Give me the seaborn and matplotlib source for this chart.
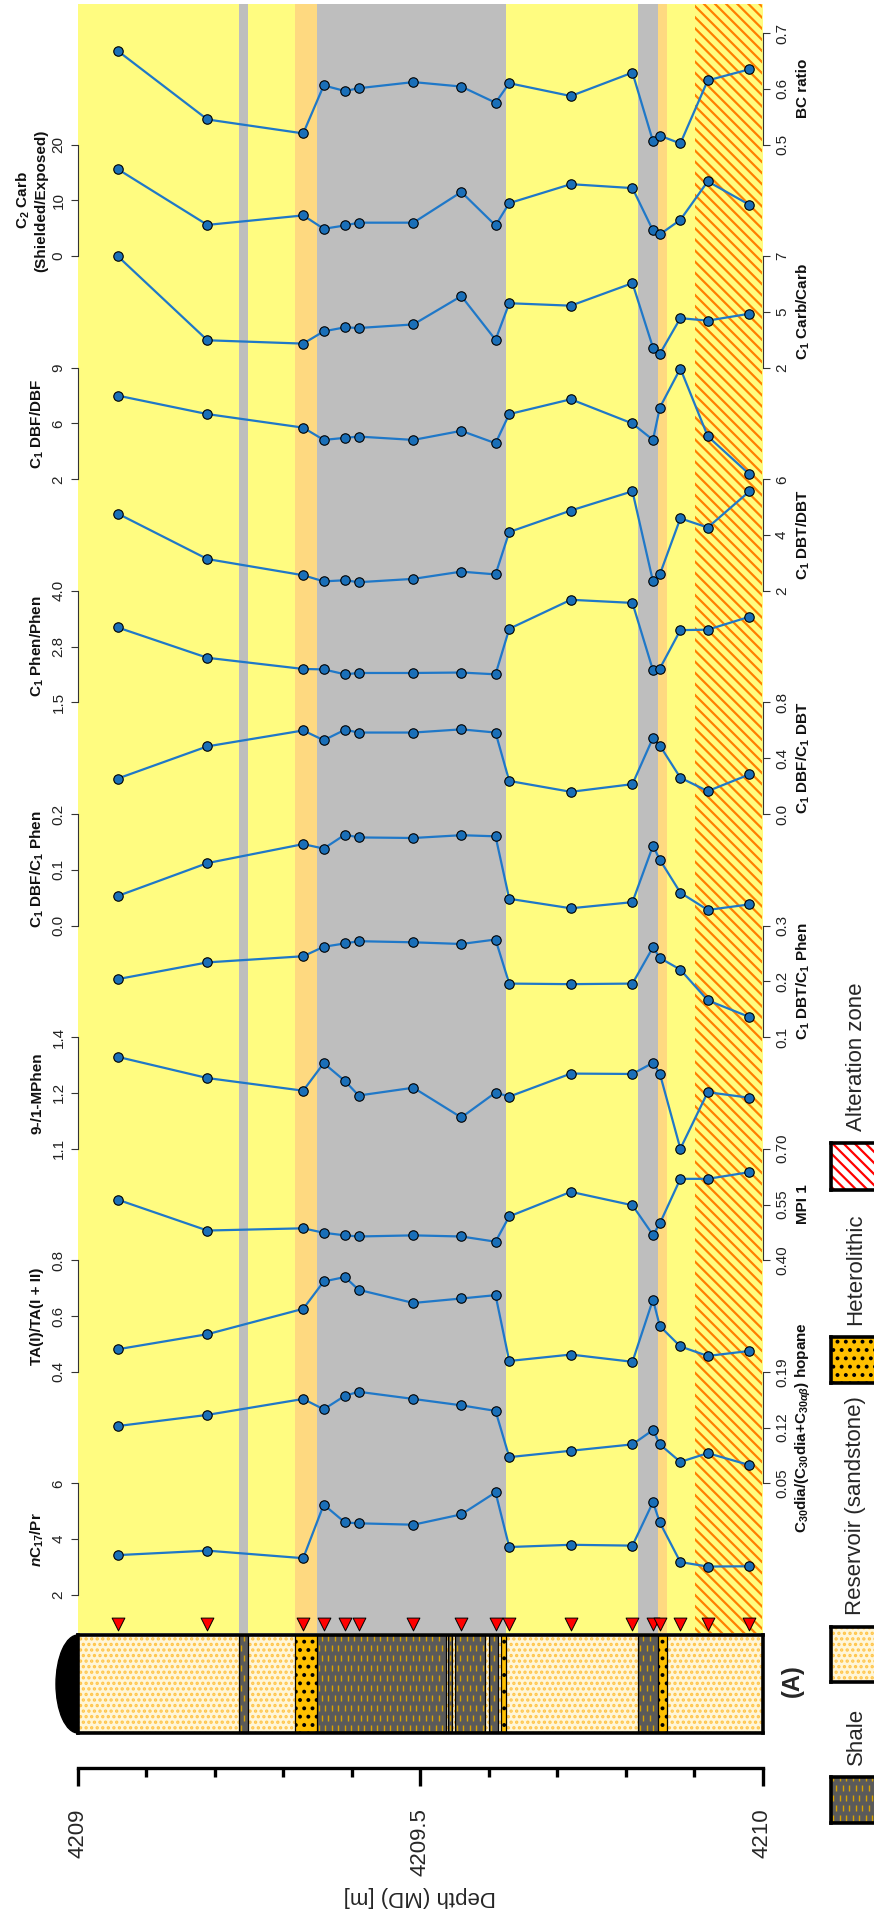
import numpy as np
import matplotlib
matplotlib.use("Agg")
import matplotlib.pyplot as plt
from matplotlib.patches import Ellipse
import seaborn as sns

# ---------------------------------------------------------------- data
depth = [4209.058, 4209.189, 4209.329, 4209.359, 4209.390, 4209.410, 4209.490,
         4209.560, 4209.610, 4209.630, 4209.720, 4209.810, 4209.840, 4209.850,
         4209.880, 4209.920, 4209.981]

nc17_pr = [3.43, 3.59, 3.32, 5.24, 4.60, 4.57, 4.52, 4.89, 5.68, 3.72, 3.80, 3.77, 5.33, 4.60, 3.18, 3.02, 3.03]
c30dia_hopane = [0.122, 0.136, 0.156, 0.143, 0.160, 0.165, 0.156, 0.148, 0.141, 0.083, 0.091, 0.099, 0.117, 0.099, 0.077, 0.088, 0.073]
ta_ratio = [0.481, 0.535, 0.626, 0.724, 0.740, 0.694, 0.647, 0.663, 0.675, 0.439, 0.462, 0.436, 0.659, 0.564, 0.491, 0.457, 0.475]
mpi1 = [0.563, 0.480, 0.486, 0.474, 0.467, 0.464, 0.467, 0.464, 0.450, 0.518, 0.584, 0.548, 0.468, 0.499, 0.619, 0.619, 0.637]
mphen_9_1 = [1.347, 1.290, 1.256, 1.330, 1.282, 1.243, 1.264, 1.184, 1.251, 1.240, 1.302, 1.301, 1.331, 1.302, 1.100, 1.252, 1.237]
dbt_phen = [0.204, 0.234, 0.245, 0.262, 0.268, 0.272, 0.270, 0.267, 0.275, 0.196, 0.195, 0.196, 0.261, 0.242, 0.221, 0.166, 0.136]
dbf_phen = [0.053, 0.112, 0.146, 0.138, 0.163, 0.158, 0.157, 0.162, 0.160, 0.048, 0.031, 0.042, 0.143, 0.118, 0.059, 0.028, 0.038]
dbf_dbt = [0.254, 0.485, 0.599, 0.529, 0.604, 0.584, 0.584, 0.607, 0.584, 0.237, 0.159, 0.214, 0.546, 0.491, 0.260, 0.164, 0.284]
c1_phen = [3.18, 2.50, 2.25, 2.24, 2.13, 2.16, 2.16, 2.17, 2.13, 3.15, 3.80, 3.73, 2.22, 2.26, 3.12, 3.13, 3.42]
c1_dbt = [4.77, 3.14, 2.56, 2.34, 2.38, 2.31, 2.43, 2.69, 2.59, 4.11, 4.88, 5.57, 2.34, 2.59, 4.60, 4.27, 5.57]
c1_dbf = [7.25, 6.09, 5.24, 4.47, 4.60, 4.68, 4.47, 5.04, 4.26, 6.09, 7.02, 5.50, 4.47, 6.50, 8.95, 4.70, 2.31]
c1_carb = [7.00, 3.23, 3.08, 3.63, 3.81, 3.78, 3.94, 5.21, 3.25, 4.89, 4.78, 5.79, 2.90, 2.62, 4.22, 4.11, 4.42]
c2_carb = [15.6, 5.6, 7.3, 4.9, 5.5, 6.0, 6.0, 11.5, 5.5, 9.5, 12.9, 12.2, 4.6, 3.9, 6.5, 13.4, 9.2]
bc_ratio = [0.668, 0.545, 0.520, 0.606, 0.596, 0.601, 0.612, 0.604, 0.575, 0.610, 0.587, 0.629, 0.506, 0.516, 0.502, 0.615, 0.635]

# (title, values, axis side, axis low, axis high, tick labels) from the bottom track up
tracks = [
    (r'$n$C$_\mathbf{17}$/Pr', nc17_pr, 'L', 2, 6, ['2', '4', '6']),
    (r'C$_\mathbf{30}$dia/(C$_\mathbf{30}$dia+C$_{\mathbf{30}\alpha\beta}$) hopane', c30dia_hopane, 'R', 0.05, 0.19, ['0.05', '0.12', '0.19']),
    ('TA(I)/TA(I + II)', ta_ratio, 'L', 0.4, 0.8, ['0.4', '0.6', '0.8']),
    ('MPI 1', mpi1, 'R', 0.40, 0.70, ['0.40', '0.55', '0.70']),
    ('9-/1-MPhen', mphen_9_1, 'L', 1.1, 1.4, ['1.1', '1.2', '1.4']),
    (r'C$_\mathbf{1}$ DBT/C$_\mathbf{1}$ Phen', dbt_phen, 'R', 0.1, 0.3, ['0.1', '0.2', '0.3']),
    (r'C$_\mathbf{1}$ DBF/C$_\mathbf{1}$ Phen', dbf_phen, 'L', 0.0, 0.2, ['0.0', '0.1', '0.2']),
    (r'C$_\mathbf{1}$ DBF/C$_\mathbf{1}$ DBT', dbf_dbt, 'R', 0.0, 0.8, ['0.0', '0.4', '0.8']),
    (r'C$_\mathbf{1}$ Phen/Phen', c1_phen, 'L', 1.5, 4.0, ['1.5', '2.8', '4.0']),
    (r'C$_\mathbf{1}$ DBT/DBT', c1_dbt, 'R', 2, 6, ['2', '4', '6']),
    (r'C$_\mathbf{1}$ DBF/DBF', c1_dbf, 'L', 2, 9, ['2', '6', '9']),
    (r'C$_\mathbf{1}$ Carb/Carb', c1_carb, 'R', 2, 7, ['2', '5', '7']),
    ('C$_\\mathbf{2}$ Carb\n(Shielded/Exposed)', c2_carb, 'L', 0, 20, ['0', '10', '20']),
    ('BC ratio', bc_ratio, 'R', 0.5, 0.7, ['0.5', '0.6', '0.7']),
]

# background zones along the core (top, base, kind)
zones = [
    (4209.2345, 4209.249, 'shale'),
    (4209.3176, 4209.3485, 'hetero'),
    (4209.3485, 4209.626, 'shale'),
    (4209.818, 4209.847, 'shale'),
    (4209.847, 4209.860, 'hetero'),
    (4209.901, 4210.0, 'altered'),
]

# lithology log intervals
litho = [
    (4209.0, 4209.2345, 'sand'), (4209.2345, 4209.249, 'shale'),
    (4209.249, 4209.3176, 'sand'), (4209.3176, 4209.3485, 'hetero'),
    (4209.3485, 4209.537, 'shale'), (4209.537, 4209.541, 'sand'),
    (4209.541, 4209.546, 'shale'), (4209.546, 4209.5505, 'sand'),
    (4209.5505, 4209.595, 'shale'), (4209.595, 4209.600, 'sand'),
    (4209.600, 4209.613, 'shale'), (4209.613, 4209.618, 'sand'),
    (4209.618, 4209.626, 'hetero'), (4209.626, 4209.818, 'sand'),
    (4209.818, 4209.847, 'shale'), (4209.847, 4209.860, 'hetero'),
    (4209.860, 4210.0, 'sand'),
]

legend_items = ['Shale', 'Reservoir (sandstone)', 'Heterolithic', 'Alteration zone']

# ---------------------------------------------------------------- style
sns.set_style("white")
plt.rcParams['font.family'] = ['Liberation Sans', 'DejaVu Sans']
plt.rcParams['mathtext.fontset'] = 'custom'
plt.rcParams['mathtext.rm'] = 'Liberation Sans:bold'
plt.rcParams['mathtext.bf'] = 'Liberation Sans:bold'
plt.rcParams['mathtext.it'] = 'Liberation Sans:italic:bold'
plt.rcParams['hatch.linewidth'] = 1.6

YELLOW = '#FFFC80'
LORANGE = '#FED980'
GRAY = '#BEBEBE'
STRIPE = '#FF8000'
LINE = '#1F78C8'
FACE = '#1A6FB8'
SAND = '#FFF6D8'
SAND_DOT = '#FFC54A'
HETERO = '#FFC000'
SHALE = '#5A5A5A'
SHALE_DASH = '#D9A300'

W, H = 874, 1913
fig = plt.figure(figsize=(W / 100, H / 100), dpi=100)


def box(x0, y0, x1, y1):
    """Pixel rectangle (y measured from the top) -> figure axes rect."""
    return [x0 / W, 1 - y1 / H, (x1 - x0) / W, (y1 - y0) / H]


PX0, PX1 = 78, 762.5
D0, D1 = 4209.0, 4210.0

# ---------------------------------------------------------------- background
ax_bg = fig.add_axes(box(PX0, 4, PX1, 1633))
ax_bg.set_xlim(D0, D1)
ax_bg.set_ylim(0, 1)
ax_bg.axis('off')
ax_bg.axvspan(D0, D1, color=YELLOW, lw=0)
for top, base, kind in zones:
    if kind == 'shale':
        ax_bg.axvspan(top, base, color=GRAY, lw=0)
    elif kind == 'hetero':
        ax_bg.axvspan(top, base, color=LORANGE, lw=0)
    else:
        ax_bg.axvspan(top, base, facecolor=YELLOW, edgecolor=STRIPE,
                      hatch='\\\\\\', lw=0)

# sample positions
tri_y = (1633 - 1623.5) / (1633 - 4)
sns.scatterplot(x=depth, y=[tri_y] * len(depth), ax=ax_bg, marker='v', s=85,
                color='#FF0000', edgecolor='black', linewidth=0.7,
                legend=False, clip_on=False, zorder=5)

# ---------------------------------------------------------------- tracks
BASE, TOP = 1595, 33
BAND = (BASE - TOP) / len(tracks)
for k, (title, vals, side, lo, hi, labels) in enumerate(tracks):
    yb = BASE - k * BAND
    yt = yb - BAND
    ax = fig.add_axes(box(PX0, yt, PX1, yb))
    ax.patch.set_alpha(0)
    sns.lineplot(x=depth, y=vals, ax=ax, estimator=None, sort=False,
                 color=LINE, linewidth=1.6, marker='o', markersize=6.8,
                 markerfacecolor=FACE, markeredgecolor='black',
                 markeredgewidth=0.8)
    for ln in ax.lines:
        ln.set_clip_on(False)
    ax.set_xlim(D0, D1)
    ax.set_ylim(lo, hi)
    ax.set_xlabel('')
    ax.set_ylabel('')
    ax.set_xticks([])
    for sp in ax.spines.values():
        sp.set_visible(False)
    spine = 'left' if side == 'L' else 'right'
    ax.spines[spine].set_visible(True)
    ax.spines[spine].set_color('#333333')
    ax.spines[spine].set_linewidth(0.8)
    ax.set_yticks([lo, (lo + hi) / 2, hi], labels)
    if side == 'R':
        ax.yaxis.tick_right()
    else:
        ax.yaxis.tick_left()
    ax.tick_params(axis='y', length=5, width=0.8, colors='#333333',
                   labelsize=11, pad=4, labelrotation=90)
    for t in ax.get_yticklabels():
        t.set_color('#222222')
        t.set_va('center')
    ymid = (yt + yb) / 2
    if side == 'L':
        tx = 31 if '\n' in title else 37
    else:
        tx = 803
    fig.text(tx / W, 1 - ymid / H, title, rotation=90, ha='center',
             va='center', fontsize=11, fontweight='bold', color='#111111',
             multialignment='center')


# ---------------------------------------------------------------- lithology log
def fill_litho(ax, top, base, kind, width_px, height_px):
    span = ax.get_xlim()[1] - ax.get_xlim()[0]
    if kind == 'sand':
        ax.axvspan(top, base, facecolor=SAND, edgecolor=SAND_DOT,
                   hatch='...', lw=0)
    elif kind == 'hetero':
        ax.axvspan(top, base, facecolor=HETERO, edgecolor='black',
                   hatch='..', lw=0)
    elif kind == 'shale':
        ax.axvspan(top, base, facecolor=SHALE, lw=0)
        dx = 6.5 * span / width_px
        dy = 10.0 / height_px
        rows = np.arange(dy / 2, 1, dy)
        for i, yy in enumerate(rows):
            off = (i % 2) * dx / 2
            xs = np.arange(top + dx / 3 + off, base - dx / 4, dx)
            if len(xs) == 0:
                xs = np.array([(top + base) / 2])
            ax.plot(xs, np.full(len(xs), yy), ls='none', marker='|',
                    ms=4.5, mew=1.0, color=SHALE_DASH)
    elif kind == 'altered':
        ax.axvspan(top, base, facecolor='white', edgecolor='#FF0000',
                   hatch='\\\\\\', lw=0)


ax_l = fig.add_axes(box(PX0, 1635, PX1, 1733))
ax_l.set_xlim(D0, D1)
ax_l.set_ylim(0, 1)
ax_l.set_xticks([])
ax_l.set_yticks([])
for top, base, kind in litho:
    fill_litho(ax_l, top, base, kind, PX1 - PX0, 98)
for top, base, kind in litho[1:]:
    ax_l.axvline(top, color='black', lw=0.9)
for sp in ax_l.spines.values():
    sp.set_visible(True)
    sp.set_color('black')
    sp.set_linewidth(2.6)
cap_w = 2 * 22 / (PX1 - PX0) * (D1 - D0)
ax_l.add_patch(Ellipse((D0, 0.5), cap_w, 1.0, color='black', clip_on=False,
                       zorder=0.5))

fig.text(792 / W, 1 - 1681 / H, '(A)', rotation=90, ha='center', va='center',
         fontsize=17, fontweight='bold')

# ---------------------------------------------------------------- depth axis
ax_d = fig.add_axes(box(PX0, 1767, PX1, 1768))
ax_d.patch.set_alpha(0)
ax_d.set_xlim(D0, D1)
ax_d.set_yticks([])
for name, sp in ax_d.spines.items():
    sp.set_visible(name == 'bottom')
ax_d.spines['bottom'].set_linewidth(2.4)
ax_d.spines['bottom'].set_color('black')
ax_d.set_xticks([4209, 4209.5, 4210], ['4209', '4209.5', '4210'])
ax_d.set_xticks(np.round(np.arange(4209.1, 4210.0, 0.1), 1), minor=True)
ax_d.tick_params(axis='x', which='both', bottom=True, top=False,
                 direction='out', color='black')
ax_d.tick_params(axis='x', which='major', length=13, width=2.4,
                 labelsize=16, pad=16, labelrotation=90)
ax_d.tick_params(axis='x', which='minor', length=6.5, width=2.4)
fig.text(420 / W, 1 - 1897 / H, 'Depth (MD) [m]', rotation=180, ha='center',
         va='center', fontsize=16)

# ---------------------------------------------------------------- legend
legend_boxes = {
    'Shale': (1777, 1823, 'shale'),
    'Reservoir (sandstone)': (1627, 1682, 'sand'),
    'Heterolithic': (1337, 1383, 'hetero'),
    'Alteration zone': (1143, 1190, 'altered'),
}
for name in legend_items:
    y0, y1, kind = legend_boxes[name]
    axk = fig.add_axes(box(831, y0, 884, y1))
    axk.set_xlim(0, 1)
    axk.set_ylim(0, 1)
    axk.set_xticks([])
    axk.set_yticks([])
    fill_litho(axk, 0, 1, kind, 53, y1 - y0)
    for sp in axk.spines.values():
        sp.set_color('black')
        sp.set_linewidth(2.6)
    fig.text(856 / W, 1 - (y0 - 12) / H, name, rotation=90, ha='center',
             va='bottom', fontsize=16)

fig.savefig('out.png', dpi=100)
